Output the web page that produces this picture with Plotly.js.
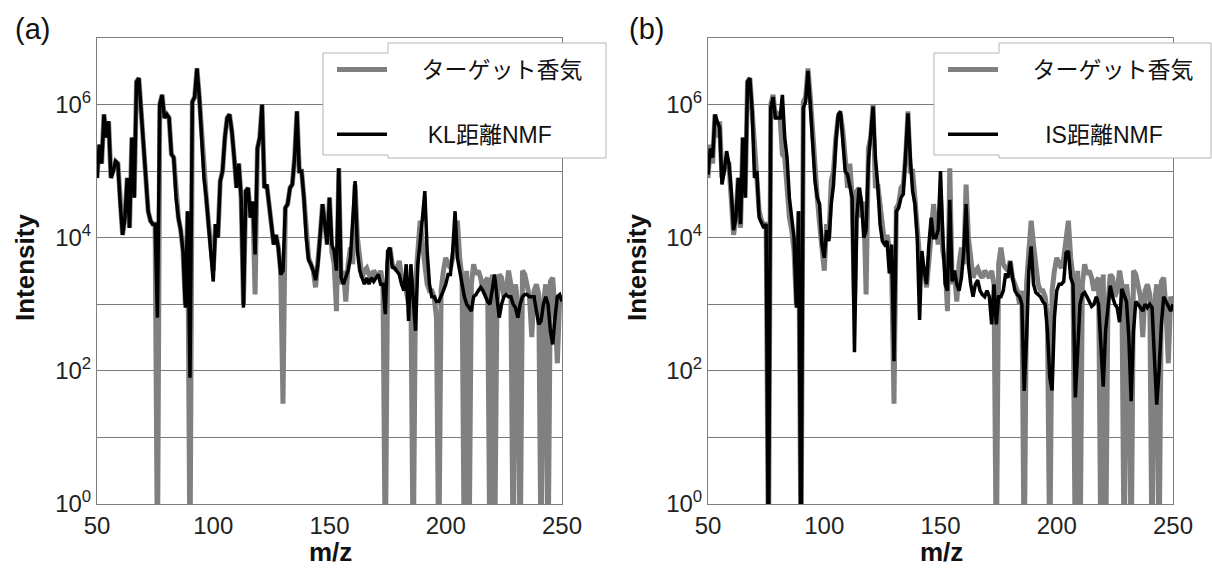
<!DOCTYPE html>
<html>
<head>
<meta charset="utf-8">
<script src="https://cdn.plot.ly/plotly-3.0.1.min.js"></script>
<style>html,body{margin:0;padding:0;background:#fff;}#chart{width:1212px;height:569px;}</style>
</head>
<body>
<div id="chart"></div>
<script>
// m/z values (unit resolution)
const mz = [
50,51,52,53,54,55,56,57,58,59,
60,61,62,63,64,65,66,67,68,69,
70,71,72,73,74,75,76,77,78,79,
80,81,82,83,84,85,86,87,88,89,
90,91,92,93,94,95,96,97,98,99,
100,101,102,103,104,105,106,107,108,109,
110,111,112,113,114,115,116,117,118,119,
120,121,122,123,124,125,126,127,128,129,
130,131,132,133,134,135,136,137,138,139,
140,141,142,143,144,145,146,147,148,149,
150,151,152,153,154,155,156,157,158,159,
160,161,162,163,164,165,166,167,168,169,
170,171,172,173,174,175,176,177,178,179,
180,181,182,183,184,185,186,187,188,189,
190,191,192,193,194,195,196,197,198,199,
200,201,202,203,204,205,206,207,208,209,
210,211,212,213,214,215,216,217,218,219,
220,221,222,223,224,225,226,227,228,229,
230,231,232,233,234,235,236,237,238,239,
240,241,242,243,244,245,246,247,248,249,
250];

// target aroma spectrum (grey) — 0.1 marks an (almost) empty channel
const targetAroma = [
7.9e4,2.5e5,1.3e5,7.1e5,3.2e5,5.6e5,7.9e4,1e5,1.4e5,1.3e5,
3.2e4,1.1e4,2e4,7.9e4,1.4e4,3.2e5,4e4,2.2e6,2.5e6,7.9e5,
3.2e5,7.9e4,2.5e4,1.8e4,1.6e4,1.6e4,0.1,1e6,1.4e6,6.3e5,
7.1e5,6.3e5,1.8e5,1.6e5,4e4,2e4,1.3e4,6.3e3,1e3,2.5e4,
0.1,1.1e6,1.3e6,3.5e6,1.3e6,3.2e5,7.9e4,4e4,1.6e4,6.3e3,
3.2e3,1.6e4,1e4,7.1e4,1e5,3.2e5,6.3e5,7.1e5,4e5,1.6e5,
5.6e4,1.3e5,4e4,1e3,5e4,5.6e4,2e4,3.5e4,1.4e3,2.2e5,
3.2e5,1e6,5.6e4,6.3e4,2.8e4,1.6e4,7.9e3,1.1e4,7.1e3,3.2e3,
32,2.8e4,3.2e4,5.6e4,6.3e4,1.6e5,7.9e5,1e5,1e5,4e4,
1e4,5e3,4e3,3.2e3,1.8e3,4e3,1.1e4,3.2e4,1.6e4,7.9e3,
4e4,6.3e3,4e3,7.9e2,1.1e5,2e3,3.2e3,1.1e3,4e3,7.1e3,
4e3,6.3e4,1e4,4e3,2.5e3,3.2e3,3.5e3,2.8e3,2.5e3,3.2e3,
2.8e3,2.5e3,3.2e3,2e3,0.1,4e3,7.1e3,4e3,3.5e3,3.2e3,
4.5e3,2.5e3,2e3,1.6e3,1e3,1.6e3,0.1,2e3,6.3e3,1.8e4,
7.9e3,3.2e3,2e3,1.6e3,1.6e3,1.3e3,6.3e2,0.1,1.6e3,3.2e3,
5e3,4e3,3.5e3,5e3,1e4,1.8e4,5e3,2.5e3,0.1,3.2e3,
0.1,2e3,4e3,2.8e3,3.2e3,2.5e3,1.6e3,2.2e3,2.5e3,0.1,
2.8e3,0.1,1e3,2.8e3,2.5e3,1.3e3,1.6e3,3.2e3,2e3,0.1,
2e3,1e3,0.1,3.2e3,2.8e3,2e3,1.3e3,3.2e2,1.6e3,2e3,
1.4e3,0.1,1e3,2e3,0.1,2.2e3,2.5e3,7.9e2,1.3e2,1.3e3,
1e3];

// NMF reconstruction with KL divergence (panel a, black)
const klNMF = [
7.9e4,2.5e5,1.3e5,7.1e5,3.2e5,5.6e5,7.9e4,1e5,1.4e5,1.3e5,
3.2e4,1.1e4,2e4,7.9e4,1.4e4,3.2e5,4e4,2.2e6,2.5e6,7.9e5,
3.2e5,7.9e4,2.5e4,1.8e4,1.6e4,1.6e4,6.3e2,1e6,1.4e6,6.3e5,
7.1e5,6.3e5,1.8e5,1.6e5,4e4,2e4,1.3e4,6.3e3,8.9e2,2.5e4,
79,1.1e6,1.3e6,3.5e6,1.3e6,3.2e5,7.9e4,4e4,1.6e4,6.3e3,
2.2e3,1.6e4,1e4,7.1e4,1e5,3.2e5,6.3e5,7.1e5,4e5,1.6e5,
5.6e4,1.3e5,4e4,8.9e2,5e4,5.6e4,2e4,3.5e4,5.6e3,2.2e5,
3.2e5,1e6,5.6e4,6.3e4,2.8e4,1.6e4,7.9e3,1.1e4,7.1e3,2.8e3,
3.2e3,2.8e4,3.2e4,5.6e4,6.3e4,1.6e5,7.9e5,1e5,1e5,4e4,
1e4,4.6e3,4e3,3.2e3,2.3e3,4e3,1.1e4,3.2e4,1.6e4,7.9e3,
4e4,7.9e3,6.3e3,3.2e3,1.1e5,2.5e3,2e3,2.5e3,3.2e3,5e3,
1.6e4,7.1e4,6.3e3,3.2e3,2.5e3,2e3,2.5e3,2e3,2.5e3,2.2e3,
2.5e3,2.8e3,2e3,2e3,7.1e2,6.3e3,7.1e3,3.6e3,3.5e3,3.2e3,
2.8e3,2e3,1.6e3,4e3,5.6e2,4e3,1e3,4e2,4e3,7.9e3,
2e4,5e4,6.3e3,2e3,1.3e3,1.3e3,1.1e3,1.1e3,1.3e3,1.6e3,
2e3,2.8e3,2.8e3,6.3e3,2.5e4,5e3,3.2e3,2e3,1.3e3,1e3,
8.9e2,7.9e2,1.3e3,1.4e3,1.6e3,1.8e3,1.6e3,1.3e3,1.1e3,1e3,
1.6e3,2.8e3,1.3e3,6.3e2,1e3,1.3e3,1.4e3,1.3e3,1.3e3,1e3,
8.9e2,6.3e2,1e3,1.3e3,1.4e3,1.4e3,1.3e3,1.3e3,1.3e3,7.9e2,
5e2,5.6e2,1e3,1.3e3,1e3,4e2,2.5e2,6.3e2,1.3e3,1.4e3,
1.1e3];

// NMF reconstruction with IS divergence (panel b, black)
const isNMF = [
8.9e4,2.2e5,1.6e5,7.1e5,5.6e5,4.5e5,6.3e4,1e5,2e5,1.3e5,
5e4,1.3e4,2e4,7.9e4,1.6e4,3.2e5,4e4,2.2e6,2.5e6,7.9e5,
7.9e4,1e5,2e4,1.6e4,1.4e4,1.6e4,0.1,8.9e5,1.3e6,6.3e5,
6.3e5,6.3e5,1.4e6,3.2e5,1.6e5,4e4,2e4,1e4,8.9e2,2.5e4,
0.1,8.9e5,1.1e6,3.2e6,1e6,2e5,7.1e4,4e4,3.2e4,7.9e3,
5e3,1.3e4,8.9e3,3.2e4,6.3e4,2.8e5,7.1e5,7.9e5,2.5e5,1e5,
8.9e4,6.3e4,4e4,1.9e2,2e4,5.6e4,3.5e4,1e4,1.3e4,1.4e5,
3.2e5,9.3e5,1.6e5,6.3e4,1.6e4,8.9e3,7.9e3,8.9e3,2.9e3,7.9e3,
1.4e2,2.5e4,2.8e4,4e4,4.5e4,2e5,7.4e5,1.6e5,5e4,3.2e4,
1e4,5.8e2,6.3e3,3.2e3,2e3,7.9e3,2e4,1e4,1e4,1.3e4,
1e5,1e4,2e3,1.6e3,3.7e4,2.2e3,3.2e3,2e3,1.6e3,2.5e3,
6.3e3,3.2e4,4e3,2e3,1.3e3,2e3,2.3e3,1.6e3,1.4e3,1.3e3,
1.6e3,1.3e3,5e2,2e3,5e2,1.3e3,1.3e3,1.6e3,2.9e3,2.5e3,
4.4e3,2.5e3,1.6e3,1.4e3,1.3e3,1e3,50,3e2,3.2e3,7.4e3,
2e3,1.5e3,1.4e3,1.3e3,1.1e3,1e3,4e2,79,51,6.3e2,
1.6e3,2e3,2e3,2.2e3,5.9e3,6.3e3,2.5e3,2e3,40,2.5e2,
1e3,1.4e3,1.5e3,1.3e3,1.1e3,9.3e2,1e3,1.3e3,1e3,2.5e2,
58,4e2,8.9e2,1.9e3,1.3e3,1e3,8.9e2,5.4e2,1.7e3,1.4e3,
1.1e3,3.2e2,35,4e2,1.1e3,1e3,8.9e2,7.9e2,1e3,8.9e2,
1e3,8.9e2,1.6e2,31,1e2,5e2,1.3e3,1.1e3,8.9e2,7.9e2,
1e3];

const seriesNames = ['ターゲット香気', 'KL距離NMF', 'IS距離NMF'];
const panelLabels = ['(a)', '(b)'];
const xTitle = 'm/z';
const yTitle = 'Intensity';
const xTickVals = [50, 100, 150, 200, 250];
const yTickVals = [1, 100, 1e4, 1e6];
const yTickText = ['10<sup>0</sup>', '10<sup>2</sup>', '10<sup>4</sup>', '10<sup>6</sup>'];
const yMinorVals = [10, 1e3, 1e5, 1e7];

const LAT = 'Liberation Sans, Arial, sans-serif';
const JP = 'Liberation Sans, Noto Sans CJK JP, sans-serif';
const GREY = '#808080';
// legend text sits further right of the sample line in the reference
const PAD1 = '\u3000\u00a0', PAD2 = '\u3000\u00a0\u00a0', PAD3 = '\u3000\u00a0\u00a0\u00a0';

const traces = [
  {x: mz, y: targetAroma, xaxis: 'x', yaxis: 'y', name: PAD1 + seriesNames[0], mode: 'lines',
   line: {color: GREY, width: 5}, legend: 'legend', legendgroup: 'a1'},
  {x: mz, y: klNMF, xaxis: 'x', yaxis: 'y', name: PAD2 + seriesNames[1], mode: 'lines',
   line: {color: '#000', width: 3.5}, legend: 'legend', legendgroup: 'a2'},
  {x: mz, y: targetAroma, xaxis: 'x2', yaxis: 'y2', name: PAD1 + seriesNames[0], mode: 'lines',
   line: {color: GREY, width: 5}, legend: 'legend2', legendgroup: 'b1'},
  {x: mz, y: isNMF, xaxis: 'x2', yaxis: 'y2', name: PAD3 + seriesNames[2], mode: 'lines',
   line: {color: '#000', width: 3.5}, legend: 'legend2', legendgroup: 'b2'}
];

function xAxis(domain, anchor) {
  return {
    domain: domain, anchor: anchor, range: [50, 250], tickvals: xTickVals,
    ticks: '', showgrid: false, zeroline: false, showline: true, mirror: true,
    linecolor: '#7f7f7f', linewidth: 1,
    tickfont: {family: LAT, size: 24, color: '#222'},
    automargin: false
  };
}
function yAxis(domain, anchor) {
  return {
    domain: domain, anchor: anchor, type: 'log', range: [0, 7],
    tickvals: yTickVals, ticktext: yTickText, ticks: '',
    showgrid: true, gridcolor: '#7a7a7a', gridwidth: 1, zeroline: false,
    minor: {tickvals: yMinorVals, showgrid: true, gridcolor: '#7a7a7a', gridwidth: 1, ticks: ''},
    showline: true, mirror: true, linecolor: '#7f7f7f', linewidth: 1,
    tickfont: {family: LAT, size: 24, color: '#222'},
    automargin: false
  };
}

// helpers to place legend frames and titles in paper units of the plot area
const L = 97, R = 1173, T = 38, B = 504;
const px = v => (v - L) / (R - L);
const py = v => (B - v) / (B - T);
function frame(x0, xs, x1) {
  const p = [[x0,53],[xs,53],[xs,43],[x1,43],[x1,158],[xs,158],[xs,155],[x0,155]];
  return {type: 'path', xref: 'paper', yref: 'paper', layer: 'above',
    path: 'M' + p.map(q => px(q[0]).toFixed(5) + ',' + py(q[1]).toFixed(5)).join('L') + 'Z',
    fillcolor: '#ffffff', line: {color: '#b4b4b4', width: 1}};
}
const titleFont = {family: LAT, size: 26, color: '#111', weight: 'bold'};
function axTitleX(cx) {
  return {text: xTitle, xref: 'paper', yref: 'paper', x: px(cx), y: py(568), xanchor: 'center', yanchor: 'bottom',
    borderpad: 0, showarrow: false, font: titleFont};
}
function axTitleY(cx) {
  return {text: yTitle, xref: 'paper', yref: 'paper', x: px(cx), y: py(268), xanchor: 'center', yanchor: 'middle',
    textangle: -90, showarrow: false, font: titleFont};
}

const legendStyle = {
  font: {family: JP, size: 23, color: '#111'}, bgcolor: 'rgba(0,0,0,0)', borderwidth: 0,
  xanchor: 'left', yanchor: 'top', traceorder: 'grouped', tracegroupgap: 32, itemwidth: 50
};

const layout = {
  width: 1212, height: 569,
  margin: {l: L, r: 1212 - R, t: T, b: 569 - B, autoexpand: false},
  paper_bgcolor: '#fff', plot_bgcolor: '#fff',
  showlegend: true, hovermode: false,
  xaxis: xAxis([0, px(562)], 'y'),
  yaxis: yAxis([0, 1], 'x'),
  xaxis2: xAxis([px(708), 1], 'y2'),
  yaxis2: yAxis([0, 1], 'x2'),
  legend: Object.assign({}, legendStyle, {x: px(332), y: py(48)}),
  legend2: Object.assign({}, legendStyle, {x: px(943), y: py(48)}),
  shapes: [frame(323, 388, 606), frame(934, 999, 1211)],
  annotations: [
    {text: panelLabels[0], xref: 'paper', yref: 'paper', x: px(13), y: py(29), xanchor: 'left', yanchor: 'middle',
     showarrow: false, font: {family: LAT, size: 29, color: '#111'}},
    {text: panelLabels[1], xref: 'paper', yref: 'paper', x: px(627), y: py(29), xanchor: 'left', yanchor: 'middle',
     showarrow: false, font: {family: LAT, size: 29, color: '#111'}},
    axTitleX(330), axTitleX(941), axTitleY(25), axTitleY(637)
  ]
};

Plotly.newPlot('chart', traces, layout, {staticPlot: true, displayModeBar: false});
</script>
</body>
</html>
